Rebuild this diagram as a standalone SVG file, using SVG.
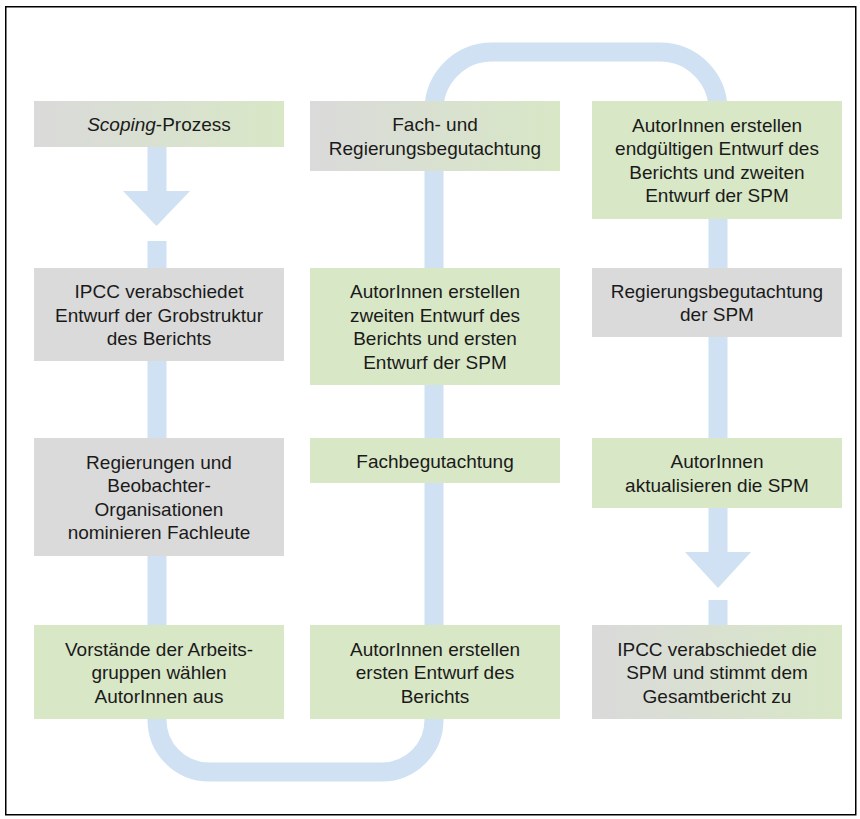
<svg xmlns="http://www.w3.org/2000/svg" width="860" height="819" viewBox="0 0 860 819">
<defs>
<linearGradient id="gg" x1="0" y1="0" x2="1" y2="0">
<stop offset="0" stop-color="#dadada"/>
<stop offset="1" stop-color="#d8e7c6"/>
</linearGradient>
</defs>
<style>
.g{fill:#d8e7c6}
.y{fill:#dadada}
.gr{fill:url(#gg)}
text{font-family:"Liberation Sans",Arial,sans-serif;font-size:19px;fill:#1a1a1a;text-anchor:middle}
.tube{fill:none;stroke:#cfe1f2;stroke-width:19}
.head{fill:#cfe1f2}
</style>
<rect x="5.75" y="6.75" width="850" height="808" fill="#fff" stroke="#000" stroke-width="1.5"/>
<g id="connectors">
<path class="tube" d="M157,140 V191"/>
<polygon class="head" points="123,191 190,191 156.5,226"/>
<path class="tube" d="M157,241 V720 A52,52 0 0 0 209,772 H382 A52,52 0 0 0 434,720 V110 A58,58 0 0 1 492,52 H660 A58,58 0 0 1 718,110 V552"/>
<polygon class="head" points="685,552 751,552 718,588"/>
<path class="tube" d="M718,600 V630"/>
</g>
<g id="n1"><rect class="gr" x="34" y="101" width="250" height="46"/><text x="159" y="131"><tspan font-style="italic">Scoping</tspan>-Prozess</text></g>
<g id="n2"><rect class="y" x="34" y="268" width="250" height="93"/><text x="159" y="298">IPCC verabschiedet</text><text x="159" y="321.5">Entwurf der Grobstruktur</text><text x="159" y="345">des Berichts</text></g>
<g id="n3"><rect class="y" x="34" y="438" width="250" height="118"/><text x="159" y="468.75">Regierungen und</text><text x="159" y="492.25">Beobachter-</text><text x="159" y="515.75">Organisationen</text><text x="159" y="539.25">nominieren Fachleute</text></g>
<g id="n4"><rect class="g" x="34" y="625" width="250" height="94"/><text x="159" y="655.5">Vorstände der Arbeits-</text><text x="159" y="679">gruppen wählen</text><text x="159" y="702.5">AutorInnen aus</text></g>
<g id="n5"><rect class="g" x="310" y="625" width="250" height="94"/><text x="435" y="655.5">AutorInnen erstellen</text><text x="435" y="679">ersten Entwurf des</text><text x="435" y="702.5">Berichts</text></g>
<g id="n6"><rect class="g" x="310" y="438" width="250" height="45"/><text x="435" y="467.5">Fachbegutachtung</text></g>
<g id="n7"><rect class="g" x="310" y="268" width="250" height="117"/><text x="435" y="298.25">AutorInnen erstellen</text><text x="435" y="321.75">zweiten Entwurf des</text><text x="435" y="345.25">Berichts und ersten</text><text x="435" y="368.75">Entwurf der SPM</text></g>
<g id="n8"><rect class="gr" x="310" y="101" width="250" height="70"/><text x="435" y="131.25">Fach- und</text><text x="435" y="154.75">Regierungsbegutachtung</text></g>
<g id="n9"><rect class="g" x="592" y="101" width="250" height="118"/><text x="717" y="131.75">AutorInnen erstellen</text><text x="717" y="155.25">endgültigen Entwurf des</text><text x="717" y="178.75">Berichts und zweiten</text><text x="717" y="202.25">Entwurf der SPM</text></g>
<g id="n10"><rect class="y" x="592" y="268" width="250" height="69"/><text x="717" y="297.75">Regierungsbegutachtung</text><text x="717" y="321.25">der SPM</text></g>
<g id="n11"><rect class="g" x="592" y="438" width="250" height="70"/><text x="717" y="468.25">AutorInnen</text><text x="717" y="491.75">aktualisieren die SPM</text></g>
<g id="n12"><rect class="gr" x="592" y="625" width="250" height="94"/><text x="717" y="655.5">IPCC verabschiedet die</text><text x="717" y="679">SPM und stimmt dem</text><text x="717" y="702.5">Gesamtbericht zu</text></g>
</svg>
